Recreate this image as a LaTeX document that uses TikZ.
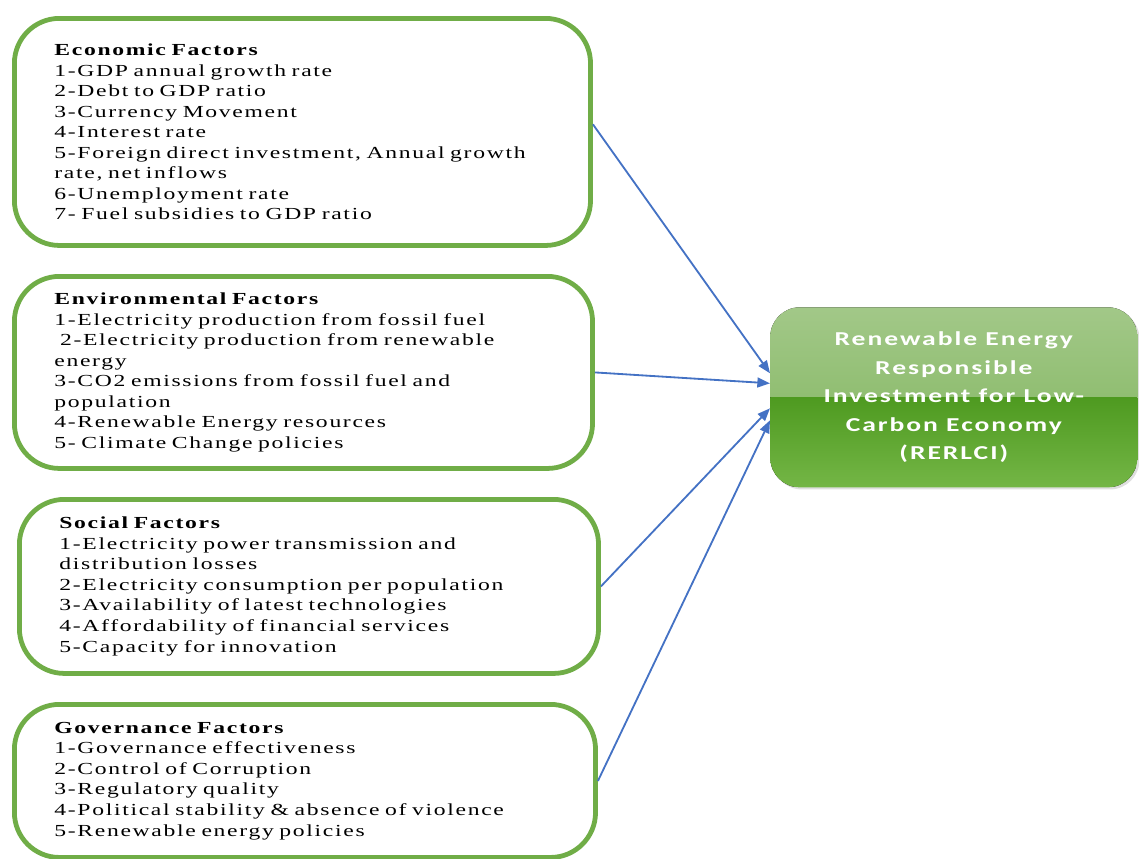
\documentclass[tikz,border=0pt]{standalone}
\usepackage{fontspec}
\setmainfont{Liberation Serif}[FakeStretch=1.4,LetterSpace=10]
\newfontfamily\glossfont{Carlito}[FakeStretch=1.4,LetterSpace=10]
\usetikzlibrary{arrows.meta,shadows}
\definecolor{FactorGreen}{HTML}{70AD47}
\definecolor{LinkBlue}{HTML}{4472C4}
\definecolor{GlossTop}{HTML}{A2C888}
\definecolor{GlossMid}{HTML}{7FB45C}
\definecolor{GlossLow}{HTML}{4E9A20}
\definecolor{GlossBottom}{HTML}{74B646}

\tikzset{
  factor/.style={draw=FactorGreen, line width=3.4pt, rounded corners=32pt, anchor=north west,
    inner xsep=1cm, align=left, font=\fontsize{12}{14.6}\selectfont},
  target/.style={anchor=north west, minimum width=9.175cm, minimum height=4.5cm,
    rounded corners=21pt, align=center, text=white,
    font=\glossfont\bfseries\fontsize{14}{20.3}\selectfont,
    drop shadow={shadow xshift=1.5pt, shadow yshift=-1.5pt, opacity=0.25},
    path picture={
      \fill[sharp corners, top color=GlossTop, bottom color=GlossMid] (path picture bounding box.north west) rectangle (path picture bounding box.east);
      \fill[sharp corners, top color=GlossLow, bottom color=GlossBottom] (path picture bounding box.west) rectangle (path picture bounding box.south east);
    }},
  link/.style={LinkBlue, line width=1.3pt, -{Triangle[length=9pt,width=7pt]}}
}

\begin{document}
\begin{tikzpicture}[x=0.025cm, y=-0.025cm]
  \useasboundingbox (0,0) rectangle (1139,858);

  % the four groups of factors
  \node[factor, text width=12.4cm, minimum height=5.675cm] (econ) at (12,16) {%
    \textbf{Economic Factors}\\
    1-GDP annual growth rate\\
    2-Debt to GDP ratio\\
    3-Currency Movement\\
    4-Interest rate\\
    5-Foreign direct investment, Annual growth\\
    rate, net inflows\\
    6-Unemployment rate\\
    7- Fuel subsidies to GDP ratio};
  \node[factor, text width=12.45cm, minimum height=4.8cm] (env) at (12,274) {%
    \textbf{Environmental Factors}\\
    1-Electricity production from fossil fuel\\
    \ 2-Electricity production from renewable\\
    energy\\
    3-CO2 emissions from fossil fuel and\\
    population\\
    4-Renewable Energy resources\\
    5- Climate Change policies};
  \node[factor, text width=12.475cm, minimum height=4.35cm] (social) at (17,497) {%
    \textbf{Social Factors}\\
    1-Electricity power transmission and\\
    distribution losses\\
    2-Electricity consumption per population\\
    3-Availability of latest technologies\\
    4-Affordability of financial services\\
    5-Capacity for innovation};
  \node[factor, text width=12.525cm, minimum height=3.825cm] (gov) at (12,702) {%
    \textbf{Governance Factors}\\
    1-Governance effectiveness\\
    2-Control of Corruption\\
    3-Regulatory quality\\
    4-Political stability \& absence of violence\\
    5-Renewable energy policies};

  % the outcome
  \node[target] (rerlci) at (770,307) {Renewable Energy\\ Responsible\\ Investment for Low-\\ Carbon Economy\\ (RERLCI)};

  \draw[link] ([yshift=0.19cm]econ.east) -- ([yshift=0.6cm]rerlci.west);
  \draw[link] (env.east) -- ([yshift=0.35cm]rerlci.west);
  \draw[link] (social.east) -- ([yshift=-0.275cm]rerlci.west);
  \draw[link] (gov.east) -- ([yshift=-0.575cm]rerlci.west);
\end{tikzpicture}
\end{document}
